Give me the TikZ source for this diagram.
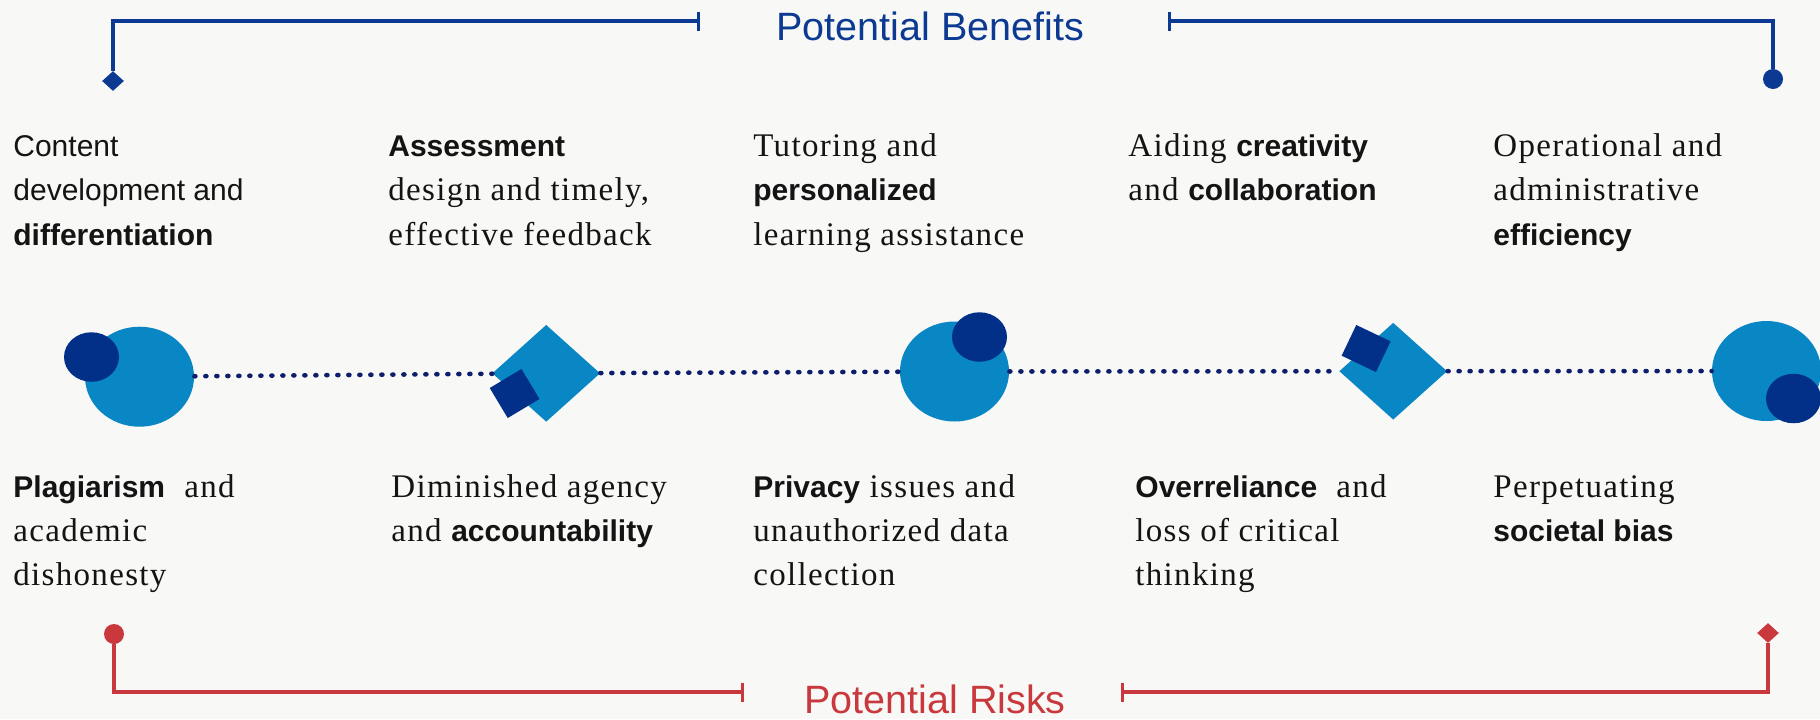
\documentclass[tikz,border=0pt]{standalone}
\usepackage{fontspec}
\setmainfont{Liberation Serif}
\newfontfamily\fsans{Liberation Sans}
\newfontfamily\fserif[LetterSpace=4.0]{Liberation Serif}
\usetikzlibrary{shapes.geometric,arrows.meta}
\definecolor{bgc}{RGB}{248,248,246}
\definecolor{benblue}{RGB}{12,58,146}
\definecolor{riskred}{RGB}{200,56,60}
\definecolor{lightb}{RGB}{9,134,196}
\definecolor{darkb}{RGB}{2,48,136}
\definecolor{dotc}{RGB}{14,30,108}
\newcommand\sr{\fserif\fontsize{16.5pt}{20pt}\selectfont}
\newcommand\sansreg{\fsans\fontsize{15pt}{18pt}\selectfont}
\newcommand\bsans[1]{{\fsans\bfseries\fontsize{15pt}{18pt}\selectfont #1}}
\begin{document}
\begin{tikzpicture}[x=0.5pt,y=-0.5pt,
  txt/.style={anchor=base west,inner sep=0pt,text=black!92},
  title/.style={anchor=base west,inner sep=0pt,font=\fsans\fontsize{19.75pt}{23pt}\selectfont},
  bigell/.style={ellipse,fill=lightb,inner sep=0pt,minimum width=54.5pt,minimum height=50pt},
  smallell/.style={ellipse,fill=darkb,inner sep=0pt,minimum width=27.5pt,minimum height=24.75pt},
  bigdia/.style={diamond,fill=lightb,inner sep=0pt,minimum width=54pt,minimum height=48.5pt},
  smallsq/.style={rectangle,fill=darkb,inner sep=0pt},
  dotline/.style={draw=dotc,line width=2.3pt,line cap=round,dash pattern=on 0.5pt off 5pt},
  bracketB/.style={draw=benblue,line width=1.65pt},
  bracketR/.style={draw=riskred,line width=1.65pt},
  enddia/.style={diamond,inner sep=0pt,minimum width=11pt,minimum height=10pt},
  enddot/.style={circle,inner sep=0pt,minimum size=10pt}
]
\path[use as bounding box,fill=bgc] (0,0) rectangle (1820,719);

% titles
\node[title,text=benblue] (tben) at (776,40) {Potential Benefits};
\node[title,text=riskred] (trisk) at (804,713) {Potential Risks};

% top brackets
\coordinate (bt1) at (700,21);
\coordinate (bt2) at (1168,21);
\node[enddia,fill=benblue] (bdia) at (113,81) {};
\node[enddot,fill=benblue] (bdot) at (1773,79) {};
\draw[bracketB,{Bar[width=9.5pt]}-] (bt1) -| (bdia);
\draw[bracketB,{Bar[width=9.5pt]}-] (bt2) -| (bdot);

% bottom brackets
\coordinate (rt1) at (744,692);
\coordinate (rt2) at (1121,692);
\node[enddot,fill=riskred] (rdot) at (114,634) {};
\node[enddia,fill=riskred] (rdia) at (1768,633) {};
\draw[bracketR,{Bar[width=9.5pt]}-] (rt1) -| (rdot);
\draw[bracketR,{Bar[width=9.5pt]}-] (rt2) -| (rdia);

% shapes
\node[bigell] (s1) at (139.5,376.7) {};
\node[smallell] (d1) at (91.5,357) {};
\node[bigdia] (s2) at (546.2,373.3) {};
\node[smallsq,minimum width=18.5pt,minimum height=17.5pt,rotate=31] (d2) at (514.6,393.5) {};
\node[bigell] (s3) at (954.5,371.5) {};
\node[smallell] (d3) at (979.5,337) {};
\node[bigdia] (s4) at (1393.2,371.2) {};
\node[smallsq,minimum width=19pt,minimum height=17pt,rotate=-25.5] (d4) at (1366.1,348.5) {};
\node[bigell] (s5) at (1766.5,371) {};
\node[smallell] (d5) at (1793.5,398.5) {};

% dotted connectors
\draw[dotline] (s1) -- (s2);
\draw[dotline] (s2) -- (s3);
\draw[dotline] (s3) -- (s4);
\draw[dotline] (s4) -- (s5);

% benefits texts
\node[txt] (t1a) at (13,156) {\sansreg Content};
\node[txt] (t1b) at (13,200) {\sansreg development and};
\node[txt] (t1c) at (13,245) {\bsans{differentiation}};
\node[txt] (t2a) at (388,156) {\bsans{Assessment}};
\node[txt] (t2b) at (388,200) {\sr design and timely,};
\node[txt] (t2c) at (388,245) {\sr effective feedback};
\node[txt] (t3a) at (753,156) {\sr Tutoring and};
\node[txt] (t3b) at (753,200) {\bsans{personalized}};
\node[txt] (t3c) at (753,245) {\sr learning assistance};
\node[txt] (t4a) at (1128,156) {\sr Aiding \bsans{creativity}};
\node[txt] (t4b) at (1128,200) {\sr and \bsans{collaboration}};
\node[txt] (t5a) at (1493,156) {\sr Operational and};
\node[txt] (t5b) at (1493,200) {\sr administrative};
\node[txt] (t5c) at (1493,245) {\bsans{efficiency}};

% risks texts
\node[txt] (u1a) at (13,497) {\bsans{Plagiarism}\sr\ \ and};
\node[txt] (u1b) at (13,541) {\sr academic};
\node[txt] (u1c) at (13,585) {\sr dishonesty};
\node[txt] (u2a) at (391,497) {\sr Diminished agency};
\node[txt] (u2b) at (391,541) {\sr and \bsans{accountability}};
\node[txt] (u3a) at (753,497) {\bsans{Privacy}\sr\ issues and};
\node[txt] (u3b) at (753,541) {\sr unauthorized data};
\node[txt] (u3c) at (753,585) {\sr collection};
\node[txt] (u4a) at (1135,497) {\bsans{Overreliance}\sr\ \ and};
\node[txt] (u4b) at (1135,541) {\sr loss of critical};
\node[txt] (u4c) at (1135,585) {\sr thinking};
\node[txt] (u5a) at (1493,497) {\sr Perpetuating};
\node[txt] (u5b) at (1493,541) {\bsans{societal bias}};
\end{tikzpicture}
\end{document}
